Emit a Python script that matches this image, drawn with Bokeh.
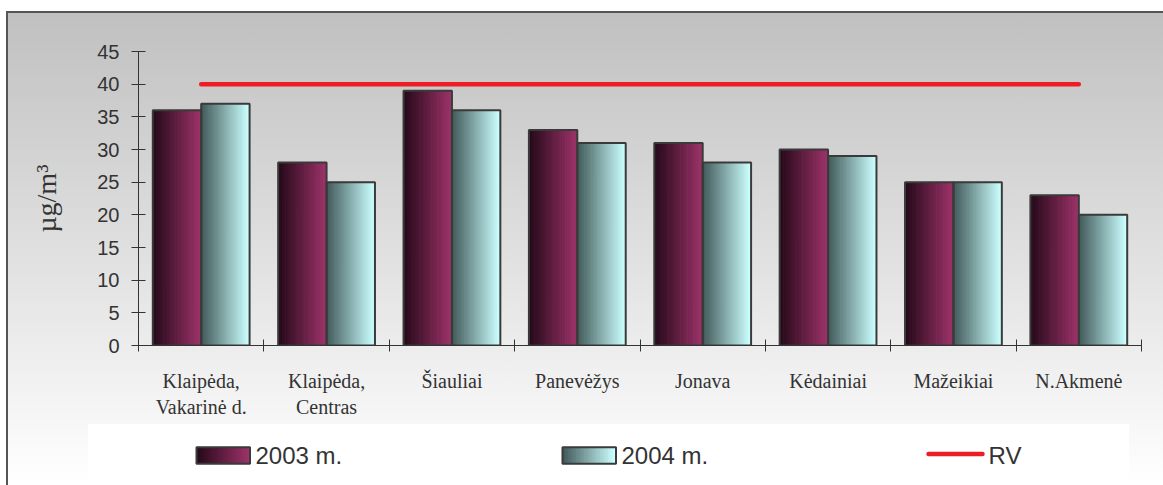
from bokeh.plotting import figure
from bokeh.models import Range1d, FixedTicker, ColumnDataSource
from bokeh.layouts import column
from bokeh.embed import file_html
from bokeh.resources import INLINE
from bokeh.core.properties import value

# ---- data ----
cities = ["Klaipėda,\nVakarinė d.", "Klaipėda,\nCentras", "Šiauliai", "Panevėžys",
          "Jonava", "Kėdainiai", "Mažeikiai", "N.Akmenė"]
values_2003 = [36, 28, 39, 33, 31, 30, 25, 23]
values_2004 = [37, 25, 36, 31, 28, 29, 25, 20]
rv_values = [40, 40, 40, 40, 40, 40, 40, 40]
series_names = ["2003 m.", "2004 m.", "RV"]
y_ticks = [0, 5, 10, 15, 20, 25, 30, 35, 40, 45]
y_label = "µg/m³"

# ---- styles ----
C2003 = ((38, 10, 26), (156, 50, 104))
C2004 = ((68, 92, 92), (204, 255, 255))
RED = "#ee1c25"
TXT = "#333333"
BW = 0.386
N = 28
FIG_W = 1155
BL, BR = 130, 22


def hexc(rgb):
    return "#%02x%02x%02x" % tuple(int(round(v)) for v in rgb)


def grad_quads(centers, tops, width, cols, bottom=0.0, n=N):
    c0, c1 = cols
    L, R, T, B, C = [], [], [], [], []
    dw = width / n
    for c, t in zip(centers, tops):
        left0 = c - width / 2
        for j in range(n):
            f = j / (n - 1)
            L.append(left0 + j * dw)
            R.append(left0 + (j + 1) * dw + (dw * 0.4 if j < n - 1 else 0))
            T.append(t)
            B.append(bottom)
            C.append(hexc([a + (b - a) * f for a, b in zip(c0, c1)]))
    return ColumnDataSource(dict(left=L, right=R, top=T, bottom=B, color=C))


ncat = len(cities)
centers = [i + 0.5 for i in range(ncat)]
x2003 = [c - BW / 2 for c in centers]
x2004 = [c + BW / 2 for c in centers]

p = figure(width=FIG_W, height=411, x_range=Range1d(0, ncat), y_range=Range1d(0, 45),
           output_backend="svg", toolbar_location=None,
           min_border_left=BL, min_border_right=BR, min_border_top=38, min_border_bottom=79,
           background_fill_alpha=0, border_fill_alpha=0, outline_line_color=None)
p.grid.visible = False

p.quad(left="left", right="right", top="top", bottom="bottom", fill_color="color",
       line_color=None, source=grad_quads(x2003, values_2003, BW, C2003))
p.quad(left="left", right="right", top="top", bottom="bottom", fill_color="color",
       line_color=None, source=grad_quads(x2004, values_2004, BW, C2004))
p.vbar(x=x2003, top=values_2003, width=BW, bottom=0, fill_alpha=0,
       line_color="#3a3a3a", line_width=2)
p.vbar(x=x2004, top=values_2004, width=BW, bottom=0, fill_alpha=0,
       line_color="#3a3a3a", line_width=2)
p.line(centers, rv_values, line_color=RED, line_width=4.5, line_cap="round")

xa = p.xaxis[0]
xa.ticker = FixedTicker(ticks=centers, minor_ticks=list(range(ncat + 1)))
xa.major_label_overrides = {c: name for c, name in zip(centers, cities)}
xa.major_tick_in = 0
xa.major_tick_out = 0
xa.minor_tick_in = 6
xa.minor_tick_out = 6
xa.minor_tick_line_color = TXT
xa.axis_line_color = TXT
xa.major_label_standoff = 18
xa.major_label_text_font = "Liberation Serif"
xa.major_label_text_font_size = "20px"
xa.major_label_text_color = TXT

ya = p.yaxis[0]
ya.ticker = FixedTicker(ticks=y_ticks, minor_ticks=[])
ya.major_tick_in = 7
ya.major_tick_out = 7
ya.major_tick_line_color = TXT
ya.axis_line_color = TXT
ya.major_label_standoff = 12
ya.major_label_text_font = "Liberation Sans"
ya.major_label_text_font_size = "20px"
ya.major_label_text_color = TXT
ya.axis_label = y_label
ya.axis_label_text_font = "Liberation Serif"
ya.axis_label_text_font_size = "28px"
ya.axis_label_text_font_style = "normal"
ya.axis_label_text_color = TXT
ya.axis_label_standoff = 32

# ---- legend strip (x coordinates = pixels from the left of this figure) ----
lf = figure(width=FIG_W, height=61, x_range=Range1d(BL, FIG_W - BR), y_range=Range1d(61, 0),
            output_backend="svg", toolbar_location=None, x_axis_type=None, y_axis_type=None,
            min_border_left=BL, min_border_right=BR, min_border_top=0, min_border_bottom=0,
            background_fill_alpha=0, border_fill_alpha=0, outline_line_color=None,
            styles={"background": "linear-gradient(to right, transparent 80px, #ffffff 80px, "
                                  "#ffffff 1121px, transparent 1121px)"})
lf.grid.visible = False

sw_left = [188, 554]
sw_w = 53.5
sw_cent = [a + sw_w / 2 for a in sw_left]
for cx, cols in zip(sw_cent, [C2003, C2004]):
    lf.quad(left="left", right="right", top="top", bottom="bottom", fill_color="color",
            line_color=None, source=grad_quads([cx], [22.7], sw_w, cols, bottom=39.3, n=20))
    lf.quad(left=[cx - sw_w / 2], right=[cx + sw_w / 2], top=[22.7], bottom=[39.3],
            fill_alpha=0, line_color="#3a3a3a", line_width=2)
lf.segment(x0=[920], y0=[29.5], x1=[974], y1=[29.5], line_color=RED, line_width=4.5,
           line_cap="round")
lf.text(x=[247, 613, 980], y=[31, 31, 31], text=series_names, text_baseline="middle",
        text_align="left", text_font=value("Liberation Sans"), text_font_size="24px",
        text_color=TXT)

layout = column(p, lf, spacing=0, styles={
    "background": "linear-gradient(to bottom, #c0c0c0, #ffffff)",
    "border-left": "2px solid #555555",
    "border-top": "2px solid #555555",
    "margin-left": "6px",
    "margin-top": "11px",
})

open("out.html", "w").write(file_html(layout, INLINE))
